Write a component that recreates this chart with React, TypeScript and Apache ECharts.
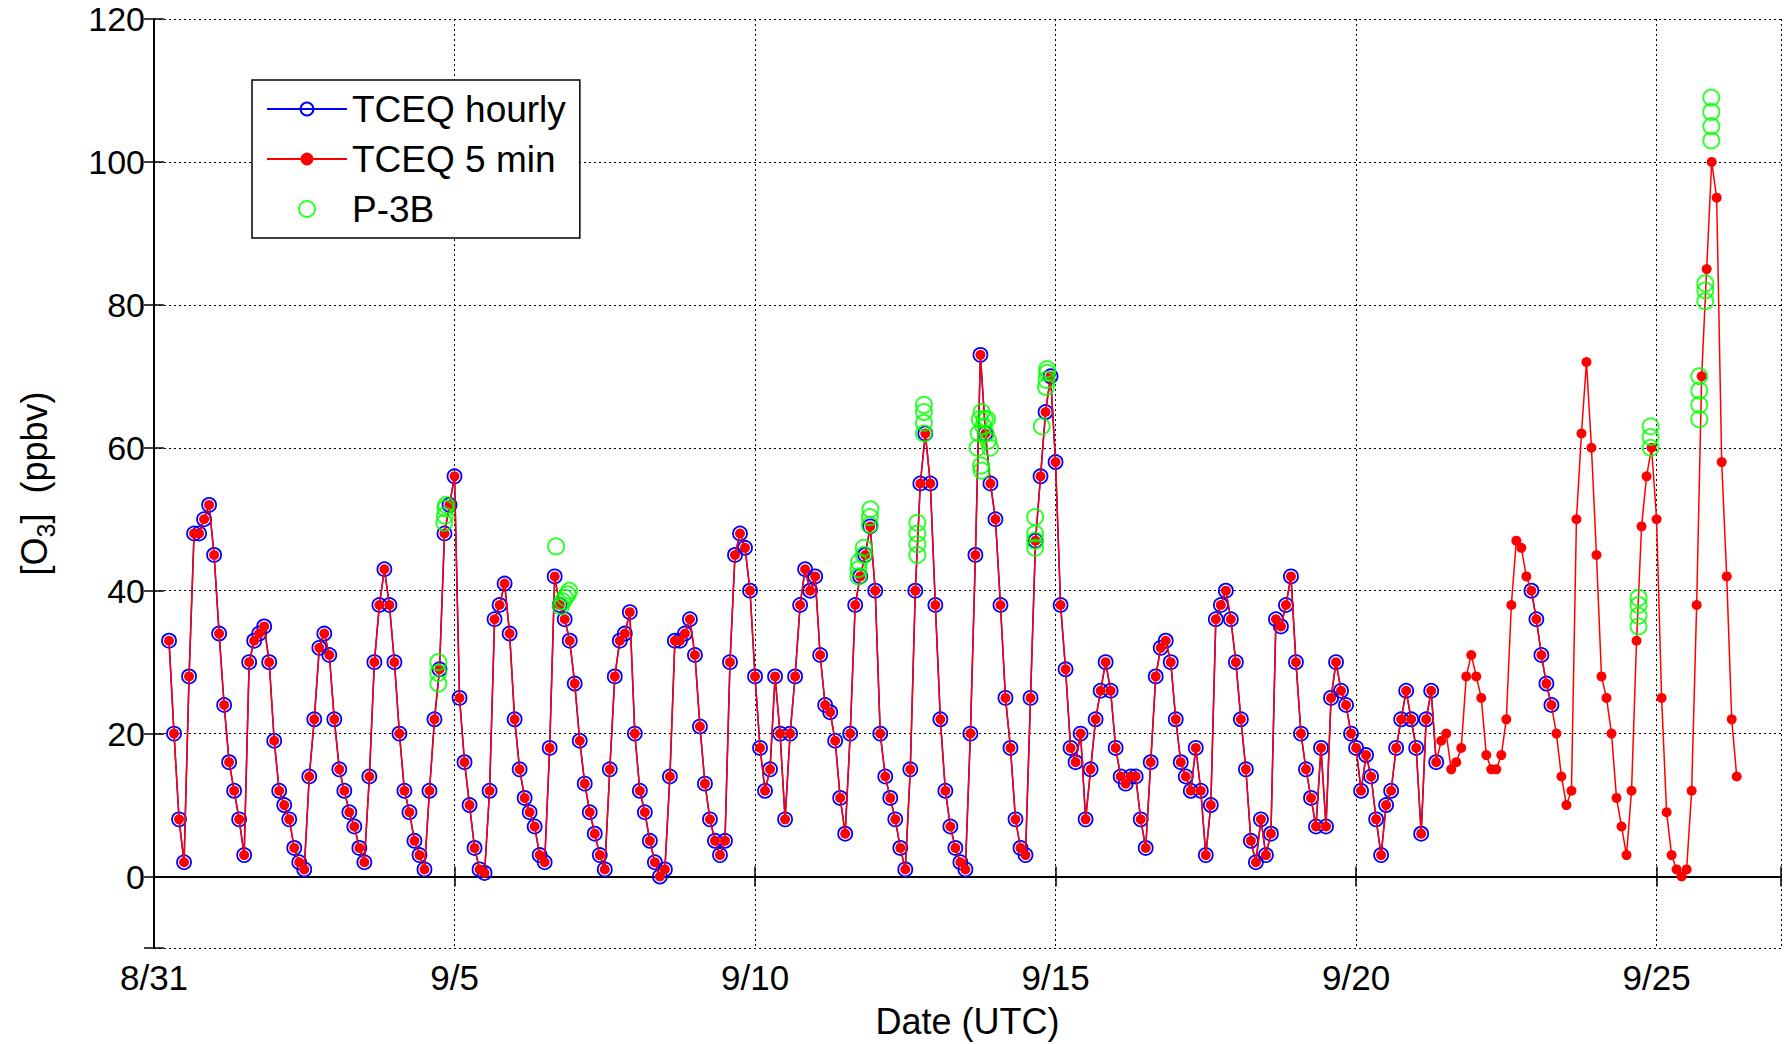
import React, { useEffect, useRef } from 'react';
import * as echarts from 'echarts';

// x axis: days since 8/31 00:00 UTC
const xTickDays = [0, 5, 10, 15, 20, 25];
const xTickLabels = ['8/31', '9/5', '9/10', '9/15', '9/20', '9/25'];

// TCEQ ozone (ppbv), read every 2 hours (00,02,...,22 UTC) for each day
const o3_0831 = [null, null, null, 33, 20, 8, 2, 28, 48, 48, 50, 52];
const o3_0901 = [45, 34, 24, 16, 12, 8, 3, 30, 33, 34, 35, 30];
const o3_0902 = [19, 12, 10, 8, 4, 2, 1, 14, 22, 32, 34, 31];
const o3_0903 = [22, 15, 12, 9, 7, 4, 2, 14, 30, 38, 43, 38];
const o3_0904 = [30, 20, 12, 9, 5, 3, 1, 12, 22, 29, 48, 52];
const o3_0905 = [56, 25, 16, 10, 4, 1, 0.5, 12, 36, 38, 41, 34];
const o3_0906 = [22, 15, 11, 9, 7, 3, 2, 18, 42, 38, 36, 33];
const o3_0907 = [27, 19, 13, 9, 6, 3, 1, 15, 28, 33, 34, 37];
const o3_0908 = [20, 12, 9, 5, 2, 0, 1, 14, 33, 33, 34, 36];
const o3_0909 = [31, 21, 13, 8, 5, 3, 5, 30, 45, 48, 46, 40];
const o3_0910 = [28, 18, 12, 15, 28, 20, 8, 20, 28, 38, 43, 40];
const o3_0911 = [42, 31, 24, 23, 19, 11, 6, 20, 38, 42, 45, 49];
const o3_0912 = [40, 20, 14, 11, 8, 4, 1, 15, 40, 55, 62, 55];
const o3_0913 = [38, 22, 12, 7, 4, 2, 1, 20, 45, 73, 62, 55];
const o3_0914 = [50, 38, 25, 18, 8, 4, 3, 25, 47, 56, 65, 70];
const o3_0915 = [58, 38, 29, 18, 16, 20, 8, 15, 22, 26, 30, 26];
const o3_0916 = [18, 14, 13, 14, 14, 8, 4, 16, 28, 32, 33, 30];
const o3_0917 = [22, 16, 14, 12, 18, 12, 3, 10, 36, 38, 40, 36];
const o3_0918 = [30, 22, 15, 5, 2, 8, 3, 6, 36, 35, 38, 42];
const o3_0919 = [30, 20, 15, 11, 7, 18, 7, 25, 30, 26, 24, 20];
const o3_0920 = [18, 12, 17, 14, 8, 3, 10, 12, 18, 22, 26, 22];
const o3_0921 = [18, 6, 22, 26, 16, 19, 20, 15, 16, 18, 28, 31];
const o3_0922 = [28, 25, 17, 15, 15, 17, 22, 38, 47, 46, 42, 40];
const o3_0923 = [36, 31, 27, 24, 20, 14, 10, 12, 50, 62, 72, 60];
const o3_0924 = [45, 28, 25, 20, 11, 7, 3, 12, 33, 49, 56, 60];
const o3_0925 = [50, 25, 9, 3, 1, 0, 1, 12, 38, 70, 85, 100];
const o3_0926 = [95, 58, 42, 22, 14];

const o3Days = [
  o3_0831, o3_0901, o3_0902, o3_0903, o3_0904, o3_0905, o3_0906, o3_0907, o3_0908,
  o3_0909, o3_0910, o3_0911, o3_0912, o3_0913, o3_0914, o3_0915, o3_0916, o3_0917,
  o3_0918, o3_0919, o3_0920, o3_0921, o3_0922, o3_0923, o3_0924, o3_0925, o3_0926,
];

// P-3B aircraft samples: time (days since 8/31) and ozone (ppbv)
const p3bTime = [
  4.73, 4.73, 4.73,
  4.83, 4.84, 4.85, 4.86,
  6.69,
  6.77, 6.8, 6.84, 6.88, 6.91,
  11.72, 11.72, 11.73,
  11.81, 11.81,
  11.91, 11.91, 11.92,
  12.7, 12.7, 12.7, 12.7,
  12.81, 12.81, 12.81, 12.81,
  13.7, 13.72, 13.74, 13.77, 13.8, 13.84, 13.88, 13.91, 13.76, 13.77, 13.82, 13.86,
  14.66, 14.66, 14.66, 14.66,
  14.77,
  14.84, 14.85, 14.86, 14.86,
  24.7, 24.7, 24.7, 24.7,
  24.9, 24.9, 24.9,
  25.71, 25.71, 25.71, 25.71,
  25.81, 25.81, 25.81,
  25.91, 25.91, 25.91, 25.91,
];
const p3bO3 = [
  27, 28.5, 30,
  49.5, 50.5, 51.5, 52,
  46.2,
  37.8, 38.5, 39, 39.5, 40,
  42, 43, 44,
  45, 46,
  49.2, 50.3, 51.4,
  45, 46.5, 48, 49.5,
  62, 63.5, 65, 66,
  60, 62, 64, 65, 63, 62, 61, 60, 57.5, 56.8, 64, 64,
  46, 47, 48, 50.3,
  63,
  68.5, 69.5, 70.5, 71,
  35, 36.5, 38, 39,
  60, 61.5, 63,
  64, 66, 68, 70,
  80.5, 82, 83,
  103, 105, 107, 109,
];

const FONT = '"Liberation Sans", Arial, Helvetica, sans-serif';

function buildOption() {
  const fiveMin: any[] = [];
  o3Days.forEach((arr, d) => {
    arr.forEach((v, i) => {
      if (v !== null) fiveMin.push([d + i / 12, v]);
    });
  });
  const hourly: any[] = [];
  let inGap = false;
  fiveMin.forEach((p) => {
    const t = p[0];
    const keep = t <= 21.4 || (t >= 22.9 && t <= 23.3);
    if (keep) {
      hourly.push(p);
      inGap = false;
    } else if (!inGap) {
      hourly.push([t, '-']);
      inGap = true;
    }
  });
  const p3b = p3bTime.map((t, i) => [t, p3bO3[i]]);

  const axisLine = { show: true, lineStyle: { color: '#000', width: 2 } };
  const axisTick = { show: true, inside: true, length: 10, lineStyle: { color: '#000', width: 1.5 } };
  const grid = { show: true, lineStyle: { color: '#000', type: [2, 3], width: 1 } };

  return {
    animation: false,
    backgroundColor: '#fff',
    textStyle: { fontFamily: FONT },
    grid: { left: 154, right: 4, top: 19, bottom: 96 },
    legend: {
      orient: 'vertical',
      left: 252,
      top: 80,
      padding: [9, 14, 9, 14],
      itemGap: 10,
      itemWidth: 80,
      itemHeight: 16,
      backgroundColor: '#fff',
      borderColor: '#000',
      borderWidth: 1.5,
      textStyle: { fontSize: 37, lineHeight: 40, color: '#000', fontFamily: FONT },
      data: ['TCEQ hourly', 'TCEQ 5 min', 'P-3B'],
    },
    xAxis: [
      {
        type: 'value',
        min: 0,
        max: 27.07,
        interval: 5,
        position: 'bottom',
        axisLine,
        axisTick,
        splitLine: grid,
        axisLabel: {
          fontSize: 35,
          color: '#000',
          margin: 12,
          fontFamily: FONT,
          formatter: (v: number) => {
            const i = xTickDays.indexOf(Math.round(v * 1000) / 1000);
            return i >= 0 ? xTickLabels[i] : '';
          },
        },
        name: 'Date (UTC)',
        nameLocation: 'middle',
        nameGap: 55,
        nameTextStyle: { fontSize: 36, color: '#000', fontFamily: FONT },
      },
      {
        type: 'value',
        min: 0,
        max: 27.07,
        interval: 5,
        position: 'top',
        axisLine,
        axisTick,
        axisLabel: { show: false },
        splitLine: { show: false },
      },
    ],
    yAxis: [
      {
        type: 'value',
        min: -10,
        max: 120,
        splitNumber: 6,
        position: 'left',
        axisLine,
        axisTick,
        splitLine: grid,
        axisLabel: {
          fontSize: 34,
          lineHeight: 30,
          color: '#000',
          margin: 9,
          fontFamily: FONT,
          formatter: (v: number) => (v === -10 ? '' : String(Math.round(v))),
        },
        name: '{a|[O}{s|3}{a|]  (ppbv)}',
        nameLocation: 'middle',
        nameRotate: 90,
        nameGap: 96,
        nameTextStyle: {
          color: '#000',
          rich: {
            a: { fontSize: 36, lineHeight: 48, color: '#000', fontFamily: FONT },
            s: { fontSize: 25, lineHeight: 25, verticalAlign: 'bottom', color: '#000', fontFamily: FONT },
          },
        },
      },
      {
        type: 'value',
        min: -10,
        max: 120,
        splitNumber: 6,
        position: 'right',
        axisLine,
        axisTick,
        axisLabel: { show: false },
        splitLine: { show: false },
      },
    ],
    series: [
      {
        name: 'TCEQ hourly',
        type: 'line',
        data: hourly,
        symbol: 'circle',
        symbolSize: 14,
        showAllSymbol: true,
        connectNulls: false,
        lineStyle: { color: '#0000ff', width: 1.5 },
        itemStyle: { color: 'rgba(0,0,0,0)', borderColor: '#0000ff', borderWidth: 1.8 },
        z: 2,
      },
      {
        name: 'TCEQ 5 min',
        type: 'line',
        data: fiveMin,
        symbol: 'circle',
        symbolSize: 10,
        showAllSymbol: true,
        lineStyle: { color: '#ff0000', width: 1.5 },
        itemStyle: { color: '#ff0000' },
        z: 3,
      },
      {
        name: 'P-3B',
        type: 'scatter',
        data: p3b,
        symbol: 'circle',
        symbolSize: 16,
        itemStyle: { color: 'rgba(0,0,0,0)', borderColor: '#00ff00', borderWidth: 2 },
        z: 4,
      },
    ],
  };
}

export default function App() {
  const ref = useRef<HTMLDivElement>(null);
  useEffect(() => {
    if (!ref.current) return;
    const chart = echarts.init(ref.current, undefined, { renderer: 'svg' });
    chart.setOption(buildOption() as any);
    return () => chart.dispose();
  }, []);
  return (
    <div
      ref={ref}
      style={{ position: 'fixed', left: 0, top: 0, width: 1785, height: 1044, background: '#fff' }}
    />
  );
}
